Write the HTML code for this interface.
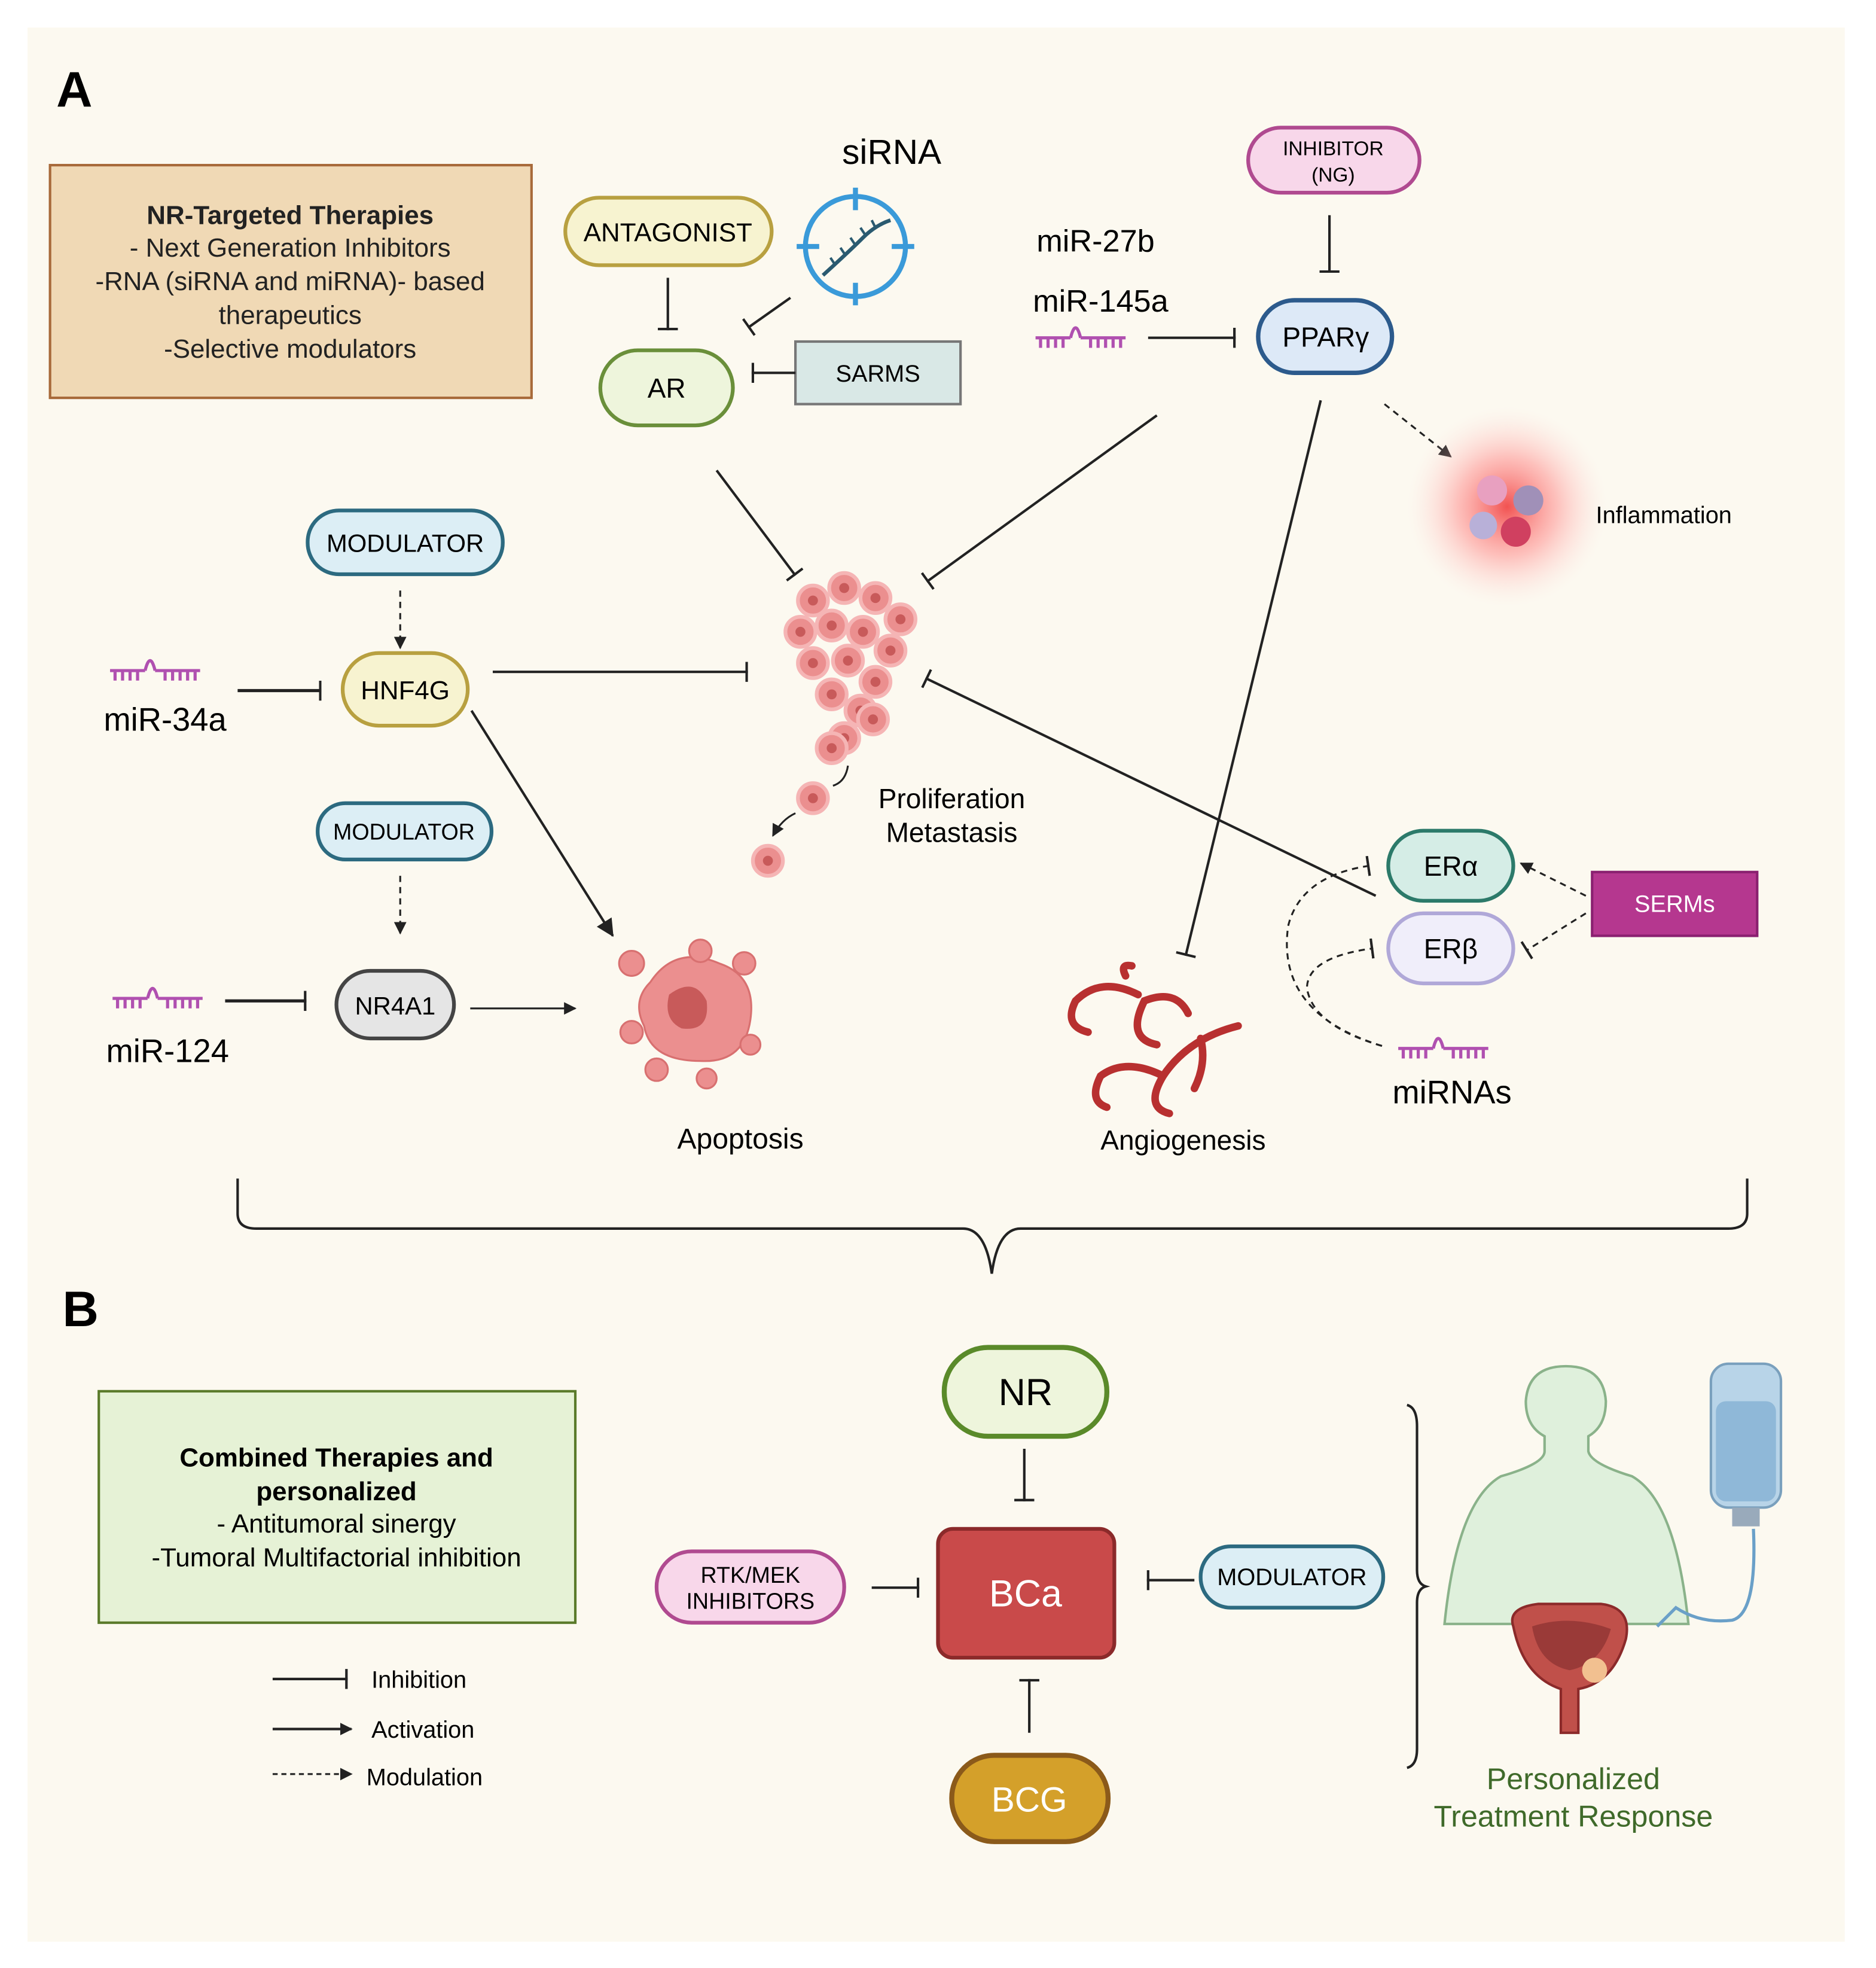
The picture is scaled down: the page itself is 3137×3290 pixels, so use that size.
<!DOCTYPE html>
<html><head><meta charset="utf-8"><style>
html,body{margin:0;padding:0;background:#fff;}
svg{display:block;}
text{font-family:"Liberation Sans",sans-serif;}
</style></head><body>
<svg width="3137" height="3290" viewBox="0 0 1500 1573" preserveAspectRatio="none" xmlns="http://www.w3.org/2000/svg">
<defs>
<marker id="ar" markerWidth="10" markerHeight="10" refX="9" refY="5" orient="auto" markerUnits="userSpaceOnUse"><path d="M0,0 L10,5 L0,10 z" fill="#222"/></marker>
<marker id="ar2" markerWidth="14" markerHeight="14" refX="13" refY="7" orient="auto" markerUnits="userSpaceOnUse"><path d="M0,0 L14,7 L0,14 z" fill="#222"/></marker>
<marker id="tb" markerWidth="4" markerHeight="16" refX="2" refY="8" orient="auto" markerUnits="userSpaceOnUse"><rect x="0" y="0" width="2" height="16" fill="#222"/></marker>
<radialGradient id="glow"><stop offset="0" stop-color="#f04040" stop-opacity="0.9"/><stop offset="0.5" stop-color="#f88" stop-opacity="0.5"/><stop offset="1" stop-color="#fdd" stop-opacity="0"/></radialGradient>
<g id="mirna"><path d="M0,12 H28 M36,12 H72 M4,12 v8 M10,12 v8 M16,12 v8 M22,12 v8 M44,12 v8 M50,12 v8 M56,12 v8 M62,12 v8 M68,12 v8 M28,12 Q32,-4 36,12" fill="none" stroke="#b050b0" stroke-width="2.5"/></g>
<g id="cell"><circle r="12" fill="#eb8f8f" stroke="#f5b5b5" stroke-width="3"/><circle r="4" fill="#c85a5a"/></g>
</defs>
<rect width="1500" height="1573" fill="#fff"/>
<rect x="22" y="22" width="1453" height="1530" fill="#fcf9f0"/>

<!-- Panel A -->
<text x="45" y="85" font-size="40" font-weight="bold">A</text>
<rect x="40" y="132" width="385" height="186" fill="#f0d9b5" stroke="#a86a3a" stroke-width="2"/>
<g font-size="21" text-anchor="middle" fill="#222">
<text x="232" y="179" font-weight="bold">NR-Targeted Therapies</text>
<text x="232" y="205">- Next Generation Inhibitors</text>
<text x="232" y="232">-RNA (siRNA and miRNA)- based</text>
<text x="232" y="259">therapeutics</text>
<text x="232" y="286">-Selective modulators</text>
</g>

<rect x="452" y="158" width="165" height="54" rx="27" fill="#f7f3d0" stroke="#b8a040" stroke-width="3"/>
<text x="534" y="193" font-size="21" text-anchor="middle">ANTAGONIST</text>
<text x="713" y="131" font-size="28" text-anchor="middle">siRNA</text>
<circle cx="684" cy="197" r="40" fill="none" stroke="#3a9ad9" stroke-width="4"/>
<path d="M684,150v18 M684,226v18 M637,197h18 M713,197h18" stroke="#3a9ad9" stroke-width="4"/>
<path d="M658,220 Q680,200 690,190 Q700,180 712,176" fill="none" stroke="#2a5a70" stroke-width="3"/>
<path d="M668,212l-4,-6 M676,204l-4,-6 M684,196l-4,-6 M692,188l-4,-6 M700,182l-3,-6" stroke="#2a5a70" stroke-width="2"/>

<rect x="480" y="280" width="106" height="60" rx="30" fill="#eef5dc" stroke="#6a8f3a" stroke-width="3"/>
<text x="533" y="318" font-size="22" text-anchor="middle">AR</text>
<line x1="534" y1="222" x2="534" y2="264" stroke="#222" stroke-width="2" marker-end="url(#tb)"/>
<line x1="632" y1="238" x2="598" y2="262" stroke="#222" stroke-width="2" marker-end="url(#tb)"/>
<rect x="636" y="273" width="132" height="50" fill="#d9e8e6" stroke="#777" stroke-width="2"/>
<text x="702" y="305" font-size="19" text-anchor="middle">SARMS</text>
<line x1="636" y1="298" x2="601" y2="298" stroke="#222" stroke-width="2" marker-end="url(#tb)"/>

<rect x="998" y="102" width="137" height="52" rx="26" fill="#f8d7ea" stroke="#b04a90" stroke-width="3"/>
<text x="1066" y="124" font-size="16" text-anchor="middle">INHIBITOR</text>
<text x="1066" y="145" font-size="16" text-anchor="middle">(NG)</text>
<line x1="1063" y1="172" x2="1063" y2="218" stroke="#222" stroke-width="2" marker-end="url(#tb)"/>
<text x="876" y="201" font-size="25" text-anchor="middle">miR-27b</text>
<text x="880" y="249" font-size="25" text-anchor="middle">miR-145a</text>
<use href="#mirna" x="828" y="258"/>
<line x1="918" y1="270" x2="988" y2="270" stroke="#222" stroke-width="2" marker-end="url(#tb)"/>
<rect x="1006" y="240" width="107" height="58" rx="29" fill="#dde9f7" stroke="#2c5a8c" stroke-width="3.5"/>
<text x="1060" y="277" font-size="22" text-anchor="middle">PPARγ</text>

<line x1="573" y1="376" x2="636" y2="460" stroke="#222" stroke-width="2" marker-end="url(#tb)"/>
<line x1="925" y1="332" x2="741" y2="465" stroke="#222" stroke-width="2" marker-end="url(#tb)"/>
<line x1="1056" y1="320" x2="948" y2="764" stroke="#222" stroke-width="2" marker-end="url(#tb)"/>
<line x1="1107" y1="323" x2="1160" y2="365" stroke="#222" stroke-width="1.5" stroke-dasharray="5,4" marker-end="url(#ar)"/>

<circle cx="1205" cy="405" r="80" fill="url(#glow)"/>
<circle cx="1193" cy="392" r="12" fill="#e8a0c0"/><circle cx="1222" cy="400" r="12" fill="#a090b8"/><circle cx="1186" cy="420" r="11" fill="#b8b0d8"/><circle cx="1212" cy="425" r="12" fill="#d04060"/>
<text x="1276" y="418" font-size="19">Inflammation</text>

<!-- tumor -->
<g>
<use href="#cell" x="650" y="480"/><use href="#cell" x="675" y="470"/><use href="#cell" x="700" y="478"/><use href="#cell" x="720" y="495"/>
<use href="#cell" x="640" y="505"/><use href="#cell" x="665" y="500"/><use href="#cell" x="690" y="505"/><use href="#cell" x="712" y="520"/>
<use href="#cell" x="650" y="530"/><use href="#cell" x="678" y="528"/><use href="#cell" x="700" y="545"/><use href="#cell" x="665" y="555"/>
<use href="#cell" x="688" y="568"/><use href="#cell" x="675" y="590"/><use href="#cell" x="698" y="575"/><use href="#cell" x="665" y="598"/>
<use href="#cell" x="650" y="638"/><use href="#cell" x="614" y="688"/>
</g>
<path d="M678,612 Q676,625 666,628 M636,650 Q625,655 618,668" fill="none" stroke="#222" stroke-width="1.5" marker-end="url(#ar)"/>
<text x="761" y="646" font-size="22" text-anchor="middle">Proliferation</text>
<text x="761" y="673" font-size="22" text-anchor="middle">Metastasis</text>

<rect x="246" y="408" width="156" height="51" rx="25" fill="#dceef5" stroke="#2c6a80" stroke-width="3"/>
<text x="324" y="441" font-size="20" text-anchor="middle">MODULATOR</text>
<line x1="320" y1="472" x2="320" y2="518" stroke="#222" stroke-width="1.5" stroke-dasharray="5,4" marker-end="url(#ar)"/>
<rect x="274" y="522" width="100" height="58" rx="29" fill="#f7f3d0" stroke="#b8a040" stroke-width="3"/>
<text x="324" y="559" font-size="21" text-anchor="middle">HNF4G</text>
<use href="#mirna" x="88" y="524"/>
<text x="132" y="584" font-size="26" text-anchor="middle">miR-34a</text>
<line x1="190" y1="552" x2="257" y2="552" stroke="#222" stroke-width="2.5" marker-end="url(#tb)"/>
<line x1="394" y1="537" x2="598" y2="537" stroke="#222" stroke-width="2" marker-end="url(#tb)"/>
<line x1="377" y1="568" x2="490" y2="748" stroke="#222" stroke-width="2" marker-end="url(#ar2)"/>

<rect x="254" y="642" width="139" height="45" rx="22" fill="#dceef5" stroke="#2c6a80" stroke-width="3"/>
<text x="323" y="671" font-size="18" text-anchor="middle">MODULATOR</text>
<line x1="320" y1="700" x2="320" y2="746" stroke="#222" stroke-width="1.5" stroke-dasharray="5,4" marker-end="url(#ar)"/>
<rect x="269" y="776" width="94" height="54" rx="27" fill="#e5e5e5" stroke="#444" stroke-width="3"/>
<text x="316" y="811" font-size="20" text-anchor="middle">NR4A1</text>
<use href="#mirna" x="90" y="786"/>
<text x="134" y="849" font-size="26" text-anchor="middle">miR-124</text>
<line x1="180" y1="800" x2="245" y2="800" stroke="#222" stroke-width="2.5" marker-end="url(#tb)"/>
<line x1="376" y1="806" x2="460" y2="806" stroke="#222" stroke-width="1.5" marker-end="url(#ar)"/>

<!-- apoptosis -->
<g fill="#eb8f8f" stroke="#d87070" stroke-width="1.5">
<path d="M520,785 Q540,755 575,770 Q605,780 600,815 Q595,850 560,848 Q520,848 515,820 Q505,800 520,785z"/>
<circle cx="505" cy="770" r="10"/><circle cx="595" cy="770" r="9"/><circle cx="505" cy="825" r="9"/><circle cx="600" cy="835" r="8"/>
<circle cx="525" cy="855" r="9"/><circle cx="565" cy="862" r="8"/><circle cx="560" cy="760" r="9"/>
</g>
<path d="M535,795 Q555,780 565,800 Q568,825 545,822 Q530,815 535,795z" fill="#c85a5a"/>
<text x="592" y="918" font-size="23" text-anchor="middle">Apoptosis</text>

<!-- angiogenesis -->
<g fill="none" stroke="#b83030" stroke-width="6" stroke-linecap="round">
<path d="M990,820 Q950,830 930,860 Q915,885 935,890"/>
<path d="M930,860 Q900,845 880,860 Q870,880 885,885"/>
<path d="M910,795 Q880,780 860,800 Q850,820 870,825"/>
<path d="M950,810 Q940,790 915,800 Q900,830 925,835"/>
<path d="M900,780 Q895,770 905,772"/>
<path d="M960,830 Q965,850 955,870"/>
</g>
<text x="946" y="919" font-size="22" text-anchor="middle">Angiogenesis</text>

<rect x="1110" y="664" width="100" height="56" rx="28" fill="#d5ede6" stroke="#2c7a6a" stroke-width="3"/>
<text x="1160" y="700" font-size="22" text-anchor="middle">ERα</text>
<rect x="1110" y="730" width="100" height="56" rx="28" fill="#f0eefa" stroke="#b0a8d8" stroke-width="3"/>
<text x="1160" y="766" font-size="22" text-anchor="middle">ERβ</text>
<line x1="1100" y1="716" x2="740" y2="542" stroke="#222" stroke-width="2" marker-end="url(#tb)"/>
<rect x="1273" y="697" width="132" height="51" fill="#b5378f" stroke="#8a2070" stroke-width="2"/>
<text x="1339" y="729" font-size="19" text-anchor="middle" fill="#fff">SERMs</text>
<line x1="1268" y1="716" x2="1216" y2="690" stroke="#222" stroke-width="1.5" stroke-dasharray="5,4" marker-end="url(#ar)"/>
<line x1="1268" y1="730" x2="1220" y2="760" stroke="#222" stroke-width="1.5" stroke-dasharray="5,4" marker-end="url(#tb)"/>
<use href="#mirna" x="1118" y="826"/>
<text x="1161" y="882" font-size="26" text-anchor="middle">miRNAs</text>
<path d="M1105,836 Q1020,810 1030,740 Q1040,700 1095,692" fill="none" stroke="#222" stroke-width="1.5" stroke-dasharray="5,4" marker-end="url(#tb)"/>
<path d="M1105,836 Q1050,820 1045,790 Q1045,765 1098,758" fill="none" stroke="#222" stroke-width="1.5" stroke-dasharray="5,4" marker-end="url(#tb)"/>

<!-- brace -->
<path d="M190,942 V970 Q190,982 205,982 H770 Q788,982 793,1018 Q798,982 816,982 H1382 Q1397,982 1397,970 V942" fill="none" stroke="#222" stroke-width="2"/>

<!-- Panel B -->
<text x="50" y="1060" font-size="40" font-weight="bold">B</text>
<rect x="79" y="1112" width="381" height="185" fill="#e6f2d6" stroke="#5a7a2a" stroke-width="2"/>
<g font-size="21" text-anchor="middle">
<text x="269" y="1172" font-weight="bold">Combined Therapies and</text>
<text x="269" y="1199" font-weight="bold">personalized</text>
<text x="269" y="1225">- Antitumoral sinergy</text>
<text x="269" y="1252">-Tumoral Multifactorial inhibition</text>
</g>
<line x1="218" y1="1342" x2="278" y2="1342" stroke="#222" stroke-width="2" marker-end="url(#tb)"/>
<line x1="218" y1="1382" x2="281" y2="1382" stroke="#222" stroke-width="2" marker-end="url(#ar)"/>
<line x1="218" y1="1418" x2="281" y2="1418" stroke="#222" stroke-width="1.5" stroke-dasharray="4,3" marker-end="url(#ar)"/>
<g font-size="19"><text x="297" y="1349">Inhibition</text><text x="297" y="1389">Activation</text><text x="293" y="1427">Modulation</text></g>

<rect x="755" y="1077" width="130" height="71" rx="35" fill="#eef5dc" stroke="#5a8a2a" stroke-width="4"/>
<text x="820" y="1123" font-size="30" text-anchor="middle">NR</text>
<line x1="819" y1="1158" x2="819" y2="1200" stroke="#222" stroke-width="2" marker-end="url(#tb)"/>
<rect x="750" y="1222" width="141" height="103" rx="12" fill="#c94a4a" stroke="#8b2a2a" stroke-width="3"/>
<text x="820" y="1284" font-size="30" text-anchor="middle" fill="#fff">BCa</text>
<rect x="525" y="1240" width="150" height="57" rx="28" fill="#f8d7ea" stroke="#b04a90" stroke-width="3"/>
<text x="600" y="1265" font-size="18" text-anchor="middle">RTK/MEK</text>
<text x="600" y="1286" font-size="18" text-anchor="middle">INHIBITORS</text>
<line x1="697" y1="1269" x2="735" y2="1269" stroke="#222" stroke-width="2" marker-end="url(#tb)"/>
<rect x="960" y="1236" width="146" height="49" rx="24" fill="#dceef5" stroke="#2c6a80" stroke-width="3"/>
<text x="1033" y="1267" font-size="19" text-anchor="middle">MODULATOR</text>
<line x1="955" y1="1263" x2="917" y2="1263" stroke="#222" stroke-width="2" marker-end="url(#tb)"/>
<rect x="761" y="1403" width="125" height="69" rx="34" fill="#d4a02a" stroke="#8b5a1a" stroke-width="4"/>
<text x="823" y="1448" font-size="28" text-anchor="middle" fill="#fff">BCG</text>
<line x1="823" y1="1385" x2="823" y2="1342" stroke="#222" stroke-width="2" marker-end="url(#tb)"/>

<path d="M1125,1123 Q1133,1125 1133,1140 V1255 Q1133,1266 1140,1268 Q1133,1270 1133,1281 V1398 Q1133,1411 1125,1413" fill="none" stroke="#222" stroke-width="2"/>

<!-- human -->
<path d="M1155,1298 Q1165,1200 1200,1180 Q1235,1170 1235,1160 V1148 Q1220,1140 1220,1120 Q1222,1092 1252,1092 Q1282,1092 1284,1120 Q1284,1140 1270,1148 V1160 Q1272,1170 1305,1180 Q1340,1200 1350,1298 Z" fill="#dff0dc" stroke="#8ab28a" stroke-width="2"/>
<path d="M1210,1300 Q1205,1285 1230,1282 H1280 Q1305,1285 1300,1310 Q1290,1345 1262,1350 V1385 H1248 V1350 Q1218,1340 1210,1300z" fill="#c0504a" stroke="#8b2a2a" stroke-width="2"/>
<path d="M1225,1300 Q1255,1290 1288,1302 Q1280,1330 1255,1335 Q1230,1330 1225,1300z" fill="#9a3a38"/>
<circle cx="1275" cy="1335" r="10" fill="#f2c090"/>
<rect x="1368" y="1090" width="56" height="115" rx="14" fill="#b8d4e8" stroke="#7aa0bd" stroke-width="2"/>
<rect x="1372" y="1120" width="48" height="80" rx="8" fill="#8fb8d8"/>
<rect x="1385" y="1205" width="22" height="15" fill="#9ab"/>
<path d="M1402,1222 Q1405,1290 1385,1295 Q1360,1298 1340,1285 L1325,1300" fill="none" stroke="#6aa0c8" stroke-width="2.5"/>
<text x="1258" y="1430" font-size="24" text-anchor="middle" fill="#3f6a2a">Personalized</text>
<text x="1258" y="1460" font-size="24" text-anchor="middle" fill="#3f6a2a">Treatment Response</text>
</svg>
</body></html>
